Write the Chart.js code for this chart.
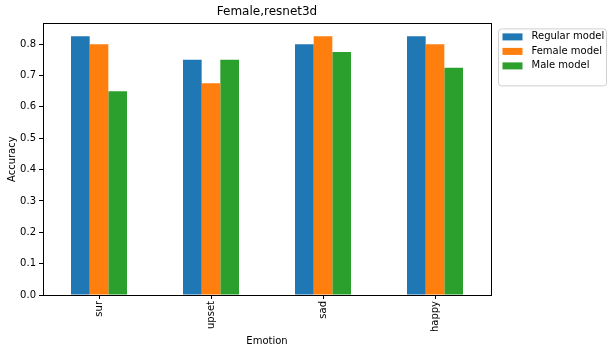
<!DOCTYPE html>
<html>
<head>
<meta charset="utf-8">
<script src="https://cdn.jsdelivr.net/npm/chart.js@4"></script>
<style>
  html, body { margin: 0; padding: 0; background: #fff; }
  #wrap { width: 613px; height: 354px; position: relative; }
</style>
</head>
<body>
<div id="wrap"><canvas id="chart"></canvas></div>
<script>
// 데이터
const emotions = ['sur', 'upset', 'sad', 'happy'];
const regularModel = [0.825, 0.75, 0.8, 0.825];
const femaleModel = [0.8, 0.675, 0.825, 0.8];
const maleModel = [0.65, 0.75, 0.775, 0.725];
const yTicks = [0.0, 0.1, 0.2, 0.3, 0.4, 0.5, 0.6, 0.7, 0.8];

const FONT = 'DejaVu Sans';

// 축 테두리 (위/오른쪽 포함)
const framePlugin = {
    id: 'frame',
    afterDraw(chart) {
        const { ctx, chartArea: a } = chart;
        ctx.save();
        ctx.strokeStyle = '#000';
        ctx.lineWidth = 1;
        ctx.strokeRect(Math.round(a.left) + 0.5, Math.round(a.top) + 0.5,
            Math.round(a.right - a.left), Math.round(a.bottom - a.top));
        ctx.restore();
    }
};

// 차트 영역 바깥 오른쪽 범례
const outsideLegend = {
    id: 'outsideLegend',
    afterDraw(chart) {
        const { ctx, chartArea: a } = chart;
        const x = a.right + 7.5, y = a.top + 5.5;
        const w = 108, h = 57;
        ctx.save();
        ctx.strokeStyle = '#d0d0d0';
        ctx.fillStyle = 'rgba(255,255,255,0.8)';
        ctx.lineWidth = 1;
        ctx.beginPath();
        ctx.roundRect(x, y, w, h, 3);
        ctx.fill();
        ctx.stroke();
        ctx.font = `10px "${FONT}"`;
        ctx.textBaseline = 'middle';
        chart.data.datasets.forEach((ds, i) => {
            const cy = a.top + 13.5 + i * 14.5;
            ctx.fillStyle = ds.backgroundColor;
            ctx.fillRect(x + 4, cy - 3.5, 20, 7);
            ctx.fillStyle = '#000';
            ctx.fillText(ds.label, x + 33, cy);
        });
        ctx.restore();
    }
};

const ctx = document.getElementById('chart').getContext('2d');
new Chart(ctx, {
    type: 'bar',
    data: {
        labels: emotions,
        datasets: [
            { label: 'Regular model', data: regularModel, backgroundColor: '#1f77b4' },
            { label: 'Female model', data: femaleModel, backgroundColor: '#ff7f0e' },
            { label: 'Male model', data: maleModel, backgroundColor: '#2ca02c' },
        ],
    },
    options: {
        responsive: true,
        maintainAspectRatio: false,
        animation: false,
        layout: { padding: { left: 0, right: 122, top: 0, bottom: 0 } },
        datasets: { bar: { categoryPercentage: 0.5, barPercentage: 1.0, borderWidth: 0 } },
        plugins: {
            legend: { display: false },
            tooltip: { enabled: false },
            title: {
                display: true,
                text: 'Female,resnet3d',
                fullSize: false,
                color: '#000',
                font: { family: FONT, size: 12, weight: 'normal' },
                padding: { top: 5, bottom: 4 },
            },
        },
        scales: {
            x: {
                grid: { offset: false, drawOnChartArea: false, drawTicks: true, tickLength: 4, tickColor: '#000' },
                border: { display: true, color: '#000' },
                ticks: {
                    color: '#000', minRotation: 90, maxRotation: 90, padding: 2,
                    font: { family: FONT, size: 10 },
                },
                title: {
                    display: true, text: 'Emotion', color: '#000',
                    font: { family: FONT, size: 10 }, padding: { top: 4, bottom: 7 },
                },
                afterFit(scale) { scale.height = 59; },
            },
            y: {
                min: 0,
                max: 0.86625,
                grid: { drawOnChartArea: false, drawTicks: true, tickLength: 4, tickColor: '#000' },
                border: { display: true, color: '#000' },
                afterBuildTicks(scale) { scale.ticks = yTicks.map(v => ({ value: v })); },
                ticks: {
                    color: '#000', padding: 3,
                    font: { family: FONT, size: 10 },
                    callback: v => Number(v).toFixed(1),
                },
                title: {
                    display: true, text: 'Accuracy', color: '#000',
                    font: { family: FONT, size: 10 }, padding: { top: 6, bottom: 2 },
                },
                afterFit(scale) { scale.width = 43; },
            },
        },
    },
    plugins: [framePlugin, outsideLegend],
});
</script>
</body>
</html>
